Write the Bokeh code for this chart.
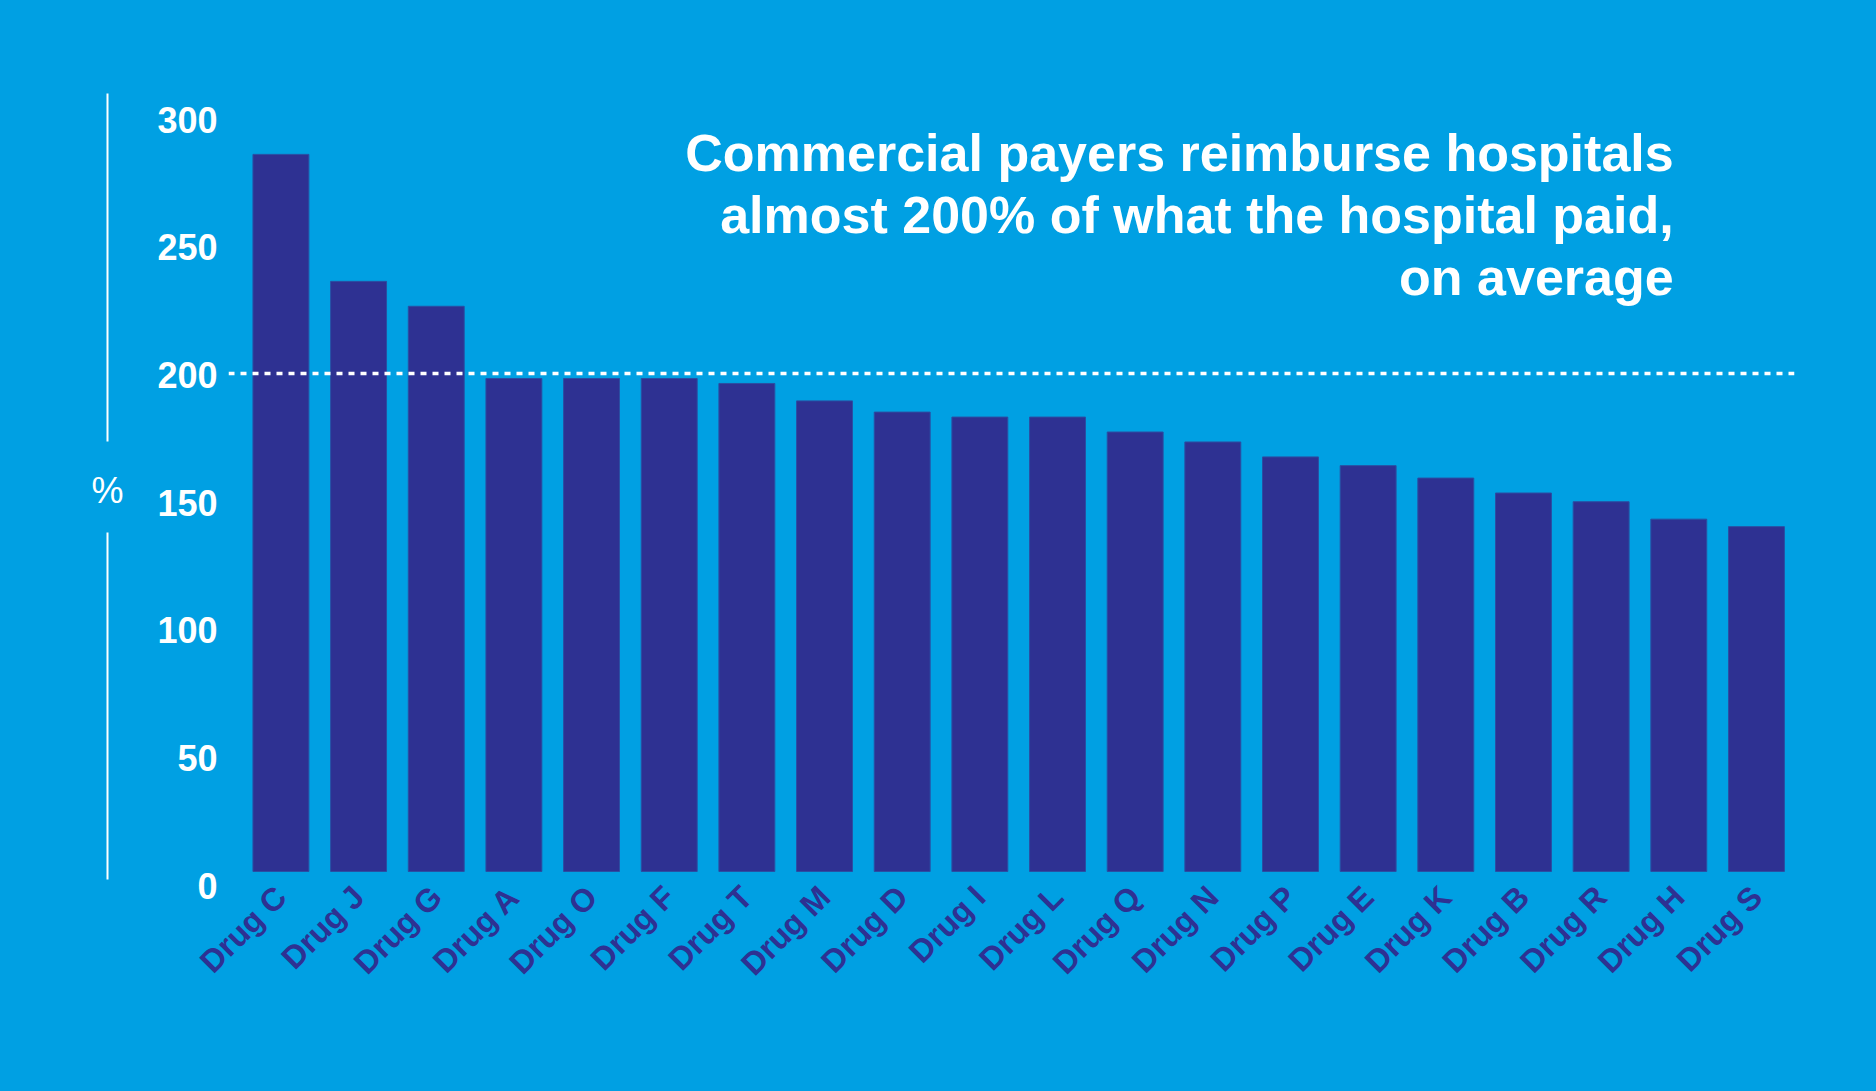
import math
from bokeh.plotting import figure
from bokeh.models import Range1d, LinearAxis, FixedTicker, Span, Label
from bokeh.embed import file_html
from bokeh.resources import INLINE

# ---- data ----
drugs = ["Drug C", "Drug J", "Drug G", "Drug A", "Drug O", "Drug F", "Drug T",
         "Drug M", "Drug D", "Drug I", "Drug L", "Drug Q", "Drug N", "Drug P",
         "Drug E", "Drug K", "Drug B", "Drug R", "Drug H", "Drug S"]
values = [288, 237, 227, 198, 198, 198, 196, 189, 184.5, 182.5, 182.5, 176.5,
          172.5, 166.5, 163, 158, 152, 148.5, 141.5, 138.5]
y_ticks = [0, 50, 100, 150, 200, 250, 300]
reference_line = 200
title_text = ("Commercial payers reimburse hospitals\n"
              "almost 200% of what the hospital paid,\n"
              "on average")
unit_label = "%"

# ---- style ----
BG = "#00A0E3"
BAR = "#2E3192"
FONT = "Liberation Sans"

positions = list(range(len(drugs)))

p = figure(width=1876, height=1091, output_backend="svg", toolbar_location=None,
           x_range=Range1d(-0.675, 19.49), y_range=Range1d(-6.43, 312.45),
           y_axis_location=None,
           min_border_left=228, min_border_right=82,
           min_border_top=93, min_border_bottom=204)
p.styles = {"background-color": BG}
p.background_fill_color = BG
p.border_fill_color = BG
p.outline_line_color = None
p.xgrid.visible = False
p.ygrid.visible = False

p.vbar(x=positions, top=values, bottom=0, width=0.72,
       fill_color=BAR, line_color="#2A4FA3", line_width=1)

# y axis with its own label scale (innermost on the left)
p.extra_y_ranges = {"lab": Range1d(-0.783, 310.2)}
yax = LinearAxis(y_range_name="lab", ticker=FixedTicker(ticks=y_ticks))
yax.axis_line_color = None
yax.major_tick_line_color = None
yax.minor_tick_line_color = None
yax.major_tick_out = 0
yax.major_tick_in = 0
yax.major_label_standoff = 11
yax.major_label_text_color = "white"
yax.major_label_text_font = FONT
yax.major_label_text_font_style = "bold"
yax.major_label_text_font_size = "36px"
p.add_layout(yax, "left")


def bare_axis(bounds="auto"):
    ax = LinearAxis(ticker=FixedTicker(ticks=[]), bounds=bounds)
    ax.major_tick_out = 0
    ax.major_tick_in = 0
    ax.major_tick_line_color = None
    ax.minor_tick_line_color = None
    ax.major_label_standoff = 0
    ax.axis_line_color = None
    return ax


# spacer between the tick labels and the unit rule (its one tick is
# drawn in the background colour, so it only reserves room)
spacer = bare_axis()
spacer.ticker = FixedTicker(ticks=[0])
spacer.major_tick_out = 47
spacer.major_tick_line_color = BG
spacer.major_label_text_color = None
p.add_layout(spacer, "left")

# vertical unit rule, with a gap around the unit label
for b in [(172.7, 312.45), (-3.2, 136.1)]:
    rule = bare_axis(b)
    rule.axis_line_color = "white"
    rule.axis_line_width = 2
    p.add_layout(rule, "left")

unit = bare_axis((-3.2, 312.45))
unit.axis_label = unit_label
unit.axis_label_orientation = "horizontal"
unit.axis_label_standoff = -16
unit.axis_label_text_color = "white"
unit.axis_label_text_font = FONT
unit.axis_label_text_font_style = "normal"
unit.axis_label_text_font_size = "36px"
p.add_layout(unit, "left")

# x axis
xax = p.xaxis[0]
xax.ticker = FixedTicker(ticks=positions)
xax.major_label_overrides = {i: d for i, d in zip(positions, drugs)}
xax.major_label_orientation = math.pi / 4
xax.axis_line_color = None
xax.major_tick_line_color = None
xax.minor_tick_line_color = None
xax.major_tick_out = 0
xax.major_tick_in = 0
xax.major_label_standoff = 4
xax.major_label_text_color = BAR
xax.major_label_text_font = FONT
xax.major_label_text_font_style = "bold"
xax.major_label_text_font_size = "32px"

# reference line
p.add_layout(Span(location=reference_line, dimension="width", line_color="white",
                  line_width=3.5, line_dash="6 6"))

p.add_layout(Label(x=17.934, y=300.4, text=title_text, text_align="right",
                   text_baseline="top", text_color="white", text_font=FONT,
                   text_font_style="bold", text_font_size="52px",
                   text_line_height=1.076))

open("out.html", "w").write(file_html(p, INLINE))
